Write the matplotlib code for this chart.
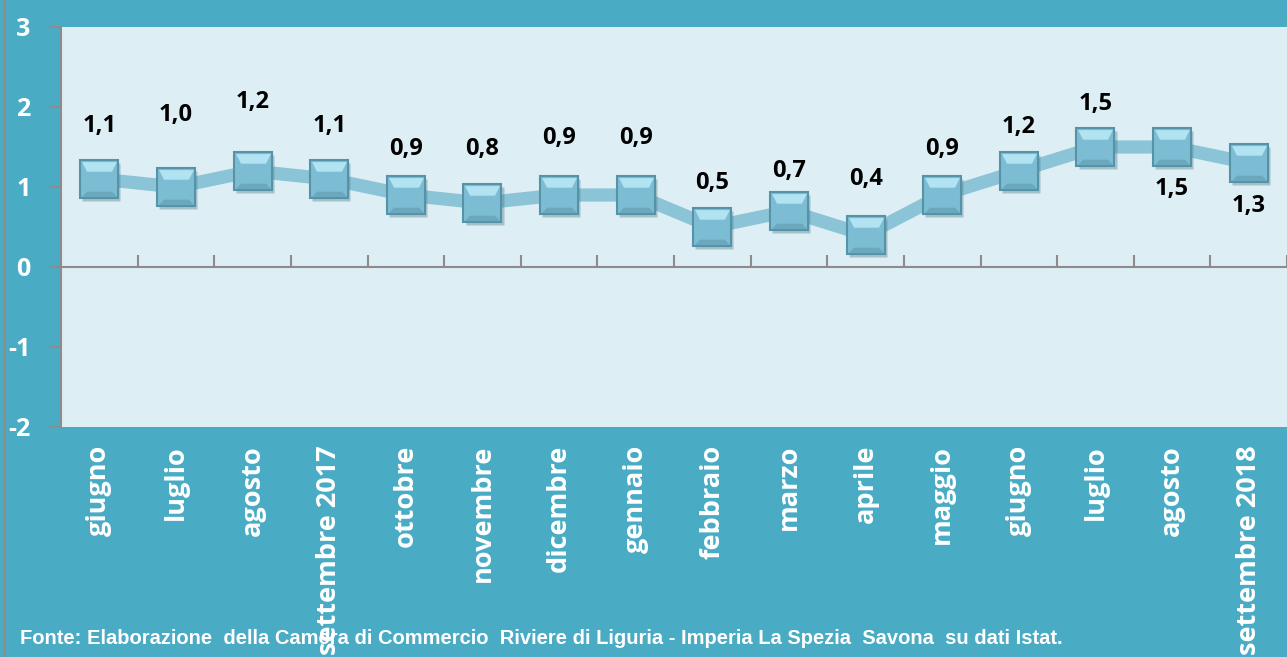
import numpy as np
import matplotlib.pyplot as plt
from matplotlib import transforms

plt.rcParams['axes.unicode_minus'] = False

# dati
mesi = ['giugno', 'luglio', 'agosto', 'settembre 2017', 'ottobre', 'novembre',
        'dicembre', 'gennaio', 'febbraio', 'marzo', 'aprile', 'maggio',
        'giugno', 'luglio', 'agosto', 'settembre 2018']
valori = [1.1, 1.0, 1.2, 1.1, 0.9, 0.8, 0.9, 0.9, 0.5, 0.7, 0.4, 0.9, 1.2, 1.5, 1.5, 1.3]
y_ticks = [-2, -1, 0, 1, 2, 3]
fonte = 'Fonte: Elaborazione  della Camera di Commercio  Riviere di Liguria - Imperia La Spezia  Savona  su dati Istat.'

# spostamento etichette (punti tipografici)
off_label = [38, 52, 50, 38, 33, 39, 41, 41, 32, 29, 40, 33, 32, 31, -30, -31]

BG = '#4aabc5'
PLOT_BG = '#ddeef4'
LINEA = '#8cc4d7'
FONT = 'Open Sans'

fig = plt.figure(figsize=(12.87, 6.57), dpi=100, facecolor=BG)
ax = fig.add_axes([61/1287, 230/657, 1 - 61/1287, 400/657])
ax.set_facecolor(PLOT_BG)

x = np.arange(len(valori))
ax.plot(x, valori, color=LINEA, lw=9.5, solid_joinstyle='round', zorder=2)

# marcatori con ombra ed effetto rilievo
shadow = transforms.offset_copy(ax.transData, fig=fig, x=1.5, y=-2.5, units='points')
ax.plot(x, valori, ls='none', marker='s', ms=28, mfc='#3f6f80', mec='none',
        alpha=0.35, transform=shadow, zorder=3)
ax.plot(x, valori, ls='none', marker='s', ms=27, mfc='#7dbdd3', mec='#5793a8',
        mew=1.5, zorder=4)
top = [(-1, 1), (1, 1), (0.72, 0.45), (-0.72, 0.45)]
ax.plot(x, valori, ls='none', marker=top, ms=25, mfc='#b2e3f2', mec='none', zorder=5)
bot = [(-1, -1), (1, -1), (0.72, -0.7), (-0.72, -0.7)]
ax.plot(x, valori, ls='none', marker=bot, ms=25, mfc='#6aa8be', mec='none', zorder=5)

for xi, v, off in zip(x, valori, off_label):
    ax.annotate(f'{v:.1f}'.replace('.', ','), (xi, v), xytext=(0, off),
                textcoords='offset points', ha='center', va='center',
                fontsize=17, fontweight='bold', family=FONT, color='black', zorder=6)

ax.set_xlim(-0.5, (1287 - 61) / 77.5 - 0.5)
ax.set_ylim(-2, 3)

# asse x sullo zero
for s in ['top', 'right']:
    ax.spines[s].set_visible(False)
ax.spines['bottom'].set_position(('data', 0))
ax.spines['bottom'].set_color('#8c8c8c')
ax.spines['bottom'].set_linewidth(1.5)
ax.spines['left'].set_color('#8c8c8c')
ax.spines['left'].set_linewidth(1.5)
ax.set_xticks(np.arange(0.5, len(valori)))
ax.tick_params(axis='x', direction='in', length=9, width=1.5, color='#8c8c8c',
               labelbottom=False)
ax.set_yticks(y_ticks)
ax.tick_params(axis='y', direction='out', length=9, width=1.5, color='#8c8c8c',
               pad=13)
for lab in ax.get_yticklabels():
    lab.set_color('white')
    lab.set_fontsize(18)
    lab.set_fontweight('bold')
    lab.set_family(FONT)

trans = transforms.blended_transform_factory(ax.transData, fig.transFigure)
for xi, m in zip(x, mesi):
    ax.text(xi, 1 - 445/657, m, transform=trans, rotation=90, ha='center', va='top',
            fontsize=19.5, fontweight='bold', family=FONT, color='white',
            clip_on=False, zorder=10)

fig.text(20/1287, 1 - 638/657, fonte, color='white', fontsize=14.5, fontweight='bold',
         family='Liberation Sans', va='center', ha='left')
fig.add_artist(plt.Line2D([5/1287, 5/1287], [0, 1], color='#8c8c8c', lw=1.5))

fig.savefig('out.png', dpi=100, facecolor=BG)
